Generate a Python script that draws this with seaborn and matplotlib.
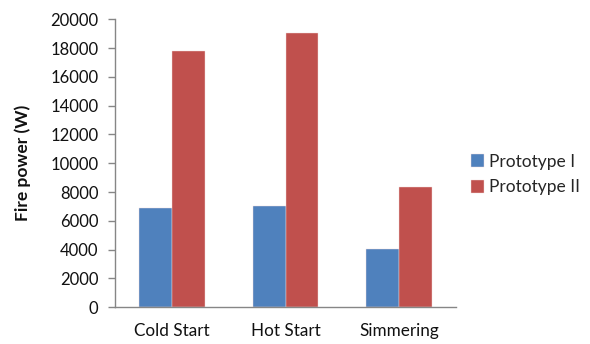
import matplotlib
matplotlib.use("Agg")
import matplotlib.pyplot as plt
import seaborn as sns
import pandas as pd
import numpy as np

categories = ["Cold Start", "Hot Start", "Simmering"]
prototype_1 = [6880, 7050, 4030]
prototype_2 = [17800, 19050, 8330]
series_names = ["Prototype I", "Prototype II"]
y_ticks = list(range(0, 20001, 2000))

df = pd.DataFrame({
    "category": categories * 2,
    "power": prototype_1 + prototype_2,
    "series": [series_names[0]] * 3 + [series_names[1]] * 3,
})

sns.set_style("white")
plt.rcParams["font.family"] = ["Lato", "DejaVu Sans"]

fig = plt.figure(figsize=(5.9, 3.44), dpi=100)
ax = fig.add_axes([0.1954, 0.1067, 0.577, 0.8372])

sns.barplot(data=df, x="category", y="power", hue="series",
            palette=["#4F81BD", "#C0504D"], width=0.58, saturation=1,
            edgecolor="#F2DCDB", linewidth=0.3, ax=ax)

ax.set_xlim(-0.5, 2.5)
ax.set_ylim(0, 20000)
ax.set_yticks(y_ticks)
ax.set_yticklabels([str(t) for t in y_ticks], fontsize=12, color="#111111")
ax.set_xticks(range(len(categories)))
ax.set_xticklabels(categories, fontsize=12.3, color="#111111")
ax.set_xticks([-0.5, 0.5, 1.5, 2.5], minor=True)
ax.tick_params(axis="x", which="major", length=0, pad=11)
ax.tick_params(axis="x", which="minor", length=5, width=1, color="#868686", direction="out")
ax.tick_params(axis="y", length=5, width=1, color="#868686", direction="out", pad=7)
ax.tick_params(axis="both", bottom=True, left=True)

for side in ["top", "right"]:
    ax.spines[side].set_visible(False)
for side in ["left", "bottom"]:
    ax.spines[side].set_color("#868686")
    ax.spines[side].set_linewidth(1)

ax.set_xlabel("")
ax.set_ylabel("Fire power (W)", fontsize=12.5, fontweight="bold", labelpad=14,
              color="#111111")

ax.legend(loc="center left", bbox_to_anchor=(1.045, 0.461), frameon=False,
          fontsize=12.5, handlelength=0.75, handleheight=0.75, handletextpad=0.3,
          labelspacing=0.55, borderaxespad=0, borderpad=0)

fig.savefig("out.png", dpi=100)
